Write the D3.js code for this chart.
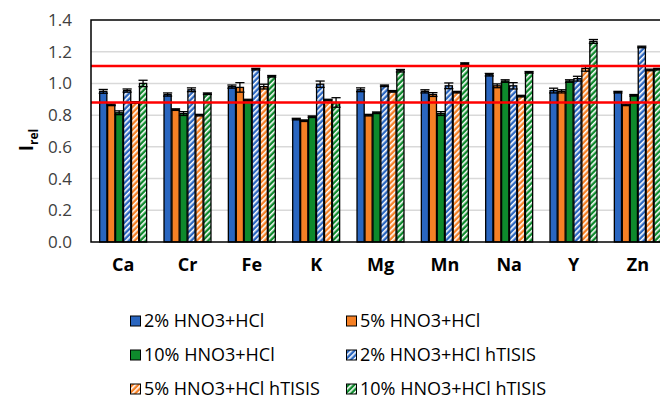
<!DOCTYPE html>
<html>
<head>
<meta charset="utf-8">
<script src="https://cdn.jsdelivr.net/npm/d3@7"></script>
<style>
  body { margin: 0; background: #fff; }
  svg { font-family: "Open Sans", "Liberation Sans", sans-serif; }
</style>
</head>
<body>
<div class="chart"></div>
<script>
var svgWidth = 660;
var svgHeight = 401;

var margin = { top: 20, right: -10, bottom: 159, left: 91 };
var width = svgWidth - margin.left - margin.right;
var height = svgHeight - margin.top - margin.bottom;

// elements on the x axis
var elements = ["Ca", "Cr", "Fe", "K", "Mg", "Mn", "Na", "Y", "Zn"];
var seriesNames = ["2% HNO3+HCl", "5% HNO3+HCl", "10% HNO3+HCl",
  "2% HNO3+HCl hTISIS", "5% HNO3+HCl hTISIS", "10% HNO3+HCl hTISIS"];

// relative intensities, one array per series (same order as elements)
var s2 = [0.95, 0.93, 0.98, 0.775, 0.96, 0.95, 1.055, 0.955, 0.945];
var s5 = [0.865, 0.835, 0.975, 0.765, 0.80, 0.93, 0.985, 0.95, 0.865];
var s10 = [0.815, 0.81, 0.895, 0.79, 0.815, 0.81, 1.015, 1.015, 0.925];
var s2h = [0.955, 0.96, 1.09, 0.995, 0.985, 0.985, 0.985, 1.03, 1.23];
var s5h = [0.88, 0.80, 0.98, 0.895, 0.95, 0.945, 0.92, 1.095, 1.085];
var s10h = [1.0, 0.935, 1.045, 0.88, 1.08, 1.125, 1.07, 1.265, 1.09];
var allValues = [s2, s5, s10, s2h, s5h, s10h];

// error bar half-widths
var e2 = [0.012, 0.01, 0.01, 0.005, 0.012, 0.01, 0.008, 0.015, 0.005];
var e5 = [0.005, 0.005, 0.03, 0.005, 0.005, 0.012, 0.012, 0.01, 0.005];
var e10 = [0.012, 0.012, 0.005, 0.005, 0.005, 0.012, 0.008, 0.008, 0.005];
var e2h = [0.01, 0.012, 0.005, 0.02, 0.005, 0.018, 0.02, 0.015, 0.005];
var e5h = [0.005, 0.005, 0.015, 0.005, 0.005, 0.005, 0.005, 0.018, 0.005];
var e10h = [0.02, 0.005, 0.005, 0.03, 0.008, 0.005, 0.005, 0.012, 0.005];
var allErrors = [e2, e5, e10, e2h, e5h, e10h];

var yTicks = [0, 0.2, 0.4, 0.6, 0.8, 1.0, 1.2, 1.4];
var limits = [0.88, 1.11];

var colors = ["#2a66c0", "#f58025", "#0e8a2c"];

var svg = d3.select(".chart").append("svg")
  .attr("width", svgWidth)
  .attr("height", svgHeight);

// hatch patterns: colour with white diagonal stripes
var defs = svg.append("defs");
colors.forEach(function(c, i) {
  var p = defs.append("pattern")
    .attr("id", "hatch" + i)
    .attr("patternUnits", "userSpaceOnUse")
    .attr("width", 4)
    .attr("height", 4)
    .attr("patternTransform", "rotate(45)");
  p.append("rect").attr("width", 4).attr("height", 4).attr("fill", c);
  p.append("rect").attr("width", 1.6).attr("height", 4).attr("fill", "#fff");
});

function fillFor(i) {
  return i < 3 ? colors[i] : "url(#hatch" + (i - 3) + ")";
}

var chartGroup = svg.append("g")
  .attr("transform", `translate(${margin.left}, ${margin.top})`);

var x0 = d3.scaleBand()
  .domain(elements)
  .range([0, width])
  .paddingInner(0.27)
  .paddingOuter(0.135);

var x1 = d3.scaleBand()
  .domain(d3.range(6))
  .range([0, x0.bandwidth()])
  .paddingInner(0.1);

var y = d3.scaleLinear()
  .domain([0, 1.4])
  .range([height, 0]);

// gridlines
chartGroup.append("g")
  .selectAll("line")
  .data(yTicks.slice(1, -1))
  .enter().append("line")
  .attr("x1", 0)
  .attr("x2", width)
  .attr("y1", d => y(d))
  .attr("y2", d => y(d))
  .attr("stroke", "#d9d9d9")
  .attr("stroke-width", 1.5);

// bars
var rows = [];
allValues.forEach(function(vals, si) {
  vals.forEach(function(v, ei) {
    rows.push({ s: si, el: elements[ei], v: v, err: allErrors[si][ei] });
  });
});

chartGroup.selectAll(".bar")
  .data(rows)
  .enter().append("rect")
  .attr("class", "bar")
  .attr("x", d => x0(d.el) + x1(d.s))
  .attr("y", d => y(d.v))
  .attr("width", x1.bandwidth())
  .attr("height", d => y(0) - y(d.v))
  .attr("fill", d => fillFor(d.s))
  .attr("stroke", "#000")
  .attr("stroke-width", 1.3);

// error bars
var errG = chartGroup.selectAll(".err")
  .data(rows)
  .enter().append("g")
  .attr("class", "err")
  .attr("stroke", "#000")
  .attr("stroke-width", 1.3);

errG.append("line")
  .attr("x1", d => x0(d.el) + x1(d.s) + x1.bandwidth() / 2)
  .attr("x2", d => x0(d.el) + x1(d.s) + x1.bandwidth() / 2)
  .attr("y1", d => y(d.v + d.err))
  .attr("y2", d => y(d.v - d.err));
[1, -1].forEach(function(sign) {
  errG.append("line")
    .attr("x1", d => x0(d.el) + x1(d.s) - 1)
    .attr("x2", d => x0(d.el) + x1(d.s) + x1.bandwidth() + 1)
    .attr("y1", d => y(d.v + sign * d.err))
    .attr("y2", d => y(d.v + sign * d.err));
});

// red limit lines
chartGroup.selectAll(".limit")
  .data(limits)
  .enter().append("line")
  .attr("x1", 0)
  .attr("x2", width)
  .attr("y1", d => y(d))
  .attr("y2", d => y(d))
  .attr("stroke", "#ff0000")
  .attr("stroke-width", 2.5);

// frame
chartGroup.append("rect")
  .attr("width", width)
  .attr("height", height)
  .attr("fill", "none")
  .attr("stroke", "#000")
  .attr("stroke-width", 1.5);

// y axis
var leftAxis = d3.axisLeft(y)
  .tickValues(yTicks)
  .tickFormat(d3.format(".1f"))
  .tickSize(0)
  .tickPadding(19);
var yAxisG = chartGroup.append("g").call(leftAxis);
yAxisG.select(".domain").remove();
yAxisG.selectAll("text")
  .attr("font-size", 17)
  .attr("font-family", "'Open Sans', sans-serif")
  .attr("fill", "#404040");

// x axis labels
var bottomAxis = d3.axisBottom(x0).tickSize(0).tickPadding(16);
var xAxisG = chartGroup.append("g")
  .attr("transform", `translate(0, ${height})`)
  .call(bottomAxis);
xAxisG.select(".domain").remove();
xAxisG.selectAll("text")
  .attr("font-size", 18)
  .attr("font-weight", "bold")
  .attr("font-family", "'Open Sans', sans-serif")
  .attr("fill", "#000");

// y title I_rel
var yTitle = svg.append("text")
  .attr("transform", "translate(33, 140) rotate(-90)")
  .attr("text-anchor", "middle")
  .attr("font-weight", "bold")
  .attr("font-size", 19)
  .attr("fill", "#000");
yTitle.append("tspan").text("I");
yTitle.append("tspan").attr("font-size", 12).attr("dy", 5).text("rel");

// legend
var legendPos = [[130, 321], [346, 321], [130, 355], [346, 355], [130, 389], [346, 389]];
var legend = svg.selectAll(".legend")
  .data(seriesNames)
  .enter().append("g")
  .attr("class", "legend")
  .attr("transform", (d, i) => `translate(${legendPos[i][0]}, ${legendPos[i][1]})`);

legend.append("rect")
  .attr("x", 0.5)
  .attr("y", -5)
  .attr("width", 10)
  .attr("height", 10)
  .attr("fill", (d, i) => fillFor(i))
  .attr("stroke", "#000")
  .attr("stroke-width", 1);

legend.append("text")
  .attr("x", 14)
  .attr("dy", "0.35em")
  .attr("font-size", 18)
  .attr("fill", "#000")
  .text(d => d);
</script>
</body>
</html>
